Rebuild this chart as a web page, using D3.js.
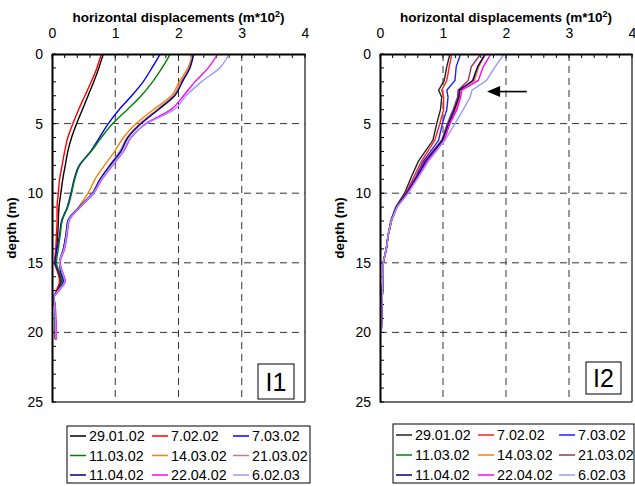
<!DOCTYPE html>
<html><head><meta charset="utf-8">
<script src="https://cdn.jsdelivr.net/npm/d3@7"></script>
<style>
body{margin:0;background:#fff;}
svg{font-family:"Liberation Sans",Arial,sans-serif;}
</style></head>
<body><svg id="c" width="635" height="486"></svg>
<script>
const seriesNames = ["29.01.02","7.02.02","7.03.02","11.03.02","14.03.02","21.03.02","11.04.02","22.04.02","6.02.03"];
const colorsI1 = ["#000000","#ff0000","#0000ff","#008000","#ff8000","#c87894","#000080","#ff00ff","#9999ff"];
const colorsI2 = ["#222222","#ff2020","#2020ff","#008000","#ff8000","#993355","#000080","#ff00ff","#9999ff"];
const xTicks = [0,1,2,3,4];
const yTicks = [0,5,10,15,20,25];

const depthI1 = [0,1,2,3,4,5,6,7,8,9,10,11,12,13,14,15,15.7,16.3,17,17.5,18,19,20,20.5];
const s1_29_01 = [0.81,0.74,0.66,0.57,0.48,0.39,0.31,0.25,0.21,0.17,0.14,0.11,0.10,0.09,0.07,0.05,0.10,0.13,0.08,0.03,0.04,0.05,0.05,0.05];
const s1_07_02 = [0.78,0.71,0.62,0.52,0.42,0.33,0.25,0.20,0.16,0.12,0.10,0.08,0.08,0.07,0.06,0.04,0.09,0.12,0.07,0.03,0.04,0.05,0.05,0.05];
const s1_07_03 = [1.71,1.58,1.44,1.26,1.06,0.89,0.75,0.61,0.43,0.35,0.30,0.24,0.15,0.12,0.08,0.05,0.11,0.15,0.09,0.02,0.04,0.05,0.06,0.06];
const s1_11_03 = [1.87,1.74,1.59,1.41,1.19,0.96,0.78,0.62,0.44,0.36,0.31,0.25,0.16,0.13,0.10,0.07,0.12,0.16,0.10,0.02,0.04,0.05,0.06,0.06];
const s1_14_03 = [2.22,2.15,2.01,1.89,1.60,1.33,1.13,0.99,0.83,0.68,0.57,0.42,0.25,0.22,0.18,0.12,0.14,0.18,0.10,0.03,0.04,0.05,0.06,0.06];
const s1_21_03 = [2.23,2.17,2.04,1.92,1.66,1.39,1.19,1.07,0.91,0.76,0.64,0.44,0.26,0.23,0.19,0.12,0.15,0.19,0.11,0.03,0.05,0.06,0.07,0.07];
const s1_11_04 = [2.24,2.18,2.06,1.94,1.68,1.41,1.20,1.09,0.92,0.76,0.64,0.43,0.25,0.22,0.18,0.12,0.14,0.18,0.10,0.03,0.04,0.05,0.06,0.06];
const s1_22_04 = [2.62,2.47,2.26,2.08,1.88,1.48,1.25,1.13,0.96,0.79,0.66,0.45,0.27,0.24,0.20,0.13,0.17,0.21,0.11,0.03,0.05,0.06,0.07,0.07];
const s1_06_02 = [2.80,2.65,2.36,2.12,1.93,1.50,1.24,1.12,0.95,0.78,0.65,0.44,0.26,0.23,0.19,0.12,0.16,0.20,0.10,0.03,0.04,0.05,0.06,0.06];

const depthI2 = [0,0.9,1.9,2.6,3.1,4,5,6.2,7.7,8.8,10,11,12,13,14,15,16,17,18,19,20];
const s2_29_01 = [1.11,1.06,1.02,0.93,0.98,0.96,0.90,0.84,0.61,0.50,0.39,0.25,0.17,0.13,0.10,0.05,0.045,0.04,0.03,0.025,0.02];
const s2_07_02 = [1.14,1.10,1.06,0.98,1.01,1.01,0.95,0.87,0.66,0.54,0.41,0.26,0.18,0.13,0.10,0.05,0.045,0.04,0.03,0.025,0.02];
const s2_07_03 = [1.28,1.21,1.19,1.06,1.08,1.06,0.99,0.93,0.69,0.57,0.42,0.26,0.18,0.13,0.10,0.05,0.045,0.04,0.03,0.025,0.02];
const s2_11_03 = [1.67,1.56,1.48,1.27,1.26,1.19,1.09,0.99,0.73,0.59,0.43,0.26,0.18,0.13,0.10,0.05,0.045,0.04,0.03,0.025,0.02];
const s2_14_03 = [1.68,1.57,1.50,1.28,1.27,1.20,1.10,1.00,0.74,0.60,0.44,0.27,0.18,0.13,0.10,0.05,0.045,0.04,0.03,0.025,0.02];
const s2_21_03 = [1.60,1.45,1.40,1.24,1.23,1.16,1.07,0.98,0.71,0.58,0.43,0.26,0.18,0.13,0.10,0.05,0.045,0.04,0.03,0.025,0.02];
const s2_11_04 = [1.67,1.55,1.47,1.26,1.25,1.18,1.09,0.99,0.73,0.59,0.43,0.26,0.18,0.13,0.10,0.05,0.045,0.04,0.03,0.025,0.02];
const s2_22_04 = [1.76,1.64,1.56,1.30,1.28,1.22,1.11,1.02,0.75,0.61,0.44,0.27,0.18,0.13,0.10,0.05,0.045,0.04,0.03,0.025,0.02];
const s2_06_02 = [1.97,1.83,1.69,1.46,1.43,1.32,1.19,1.03,0.77,0.62,0.45,0.27,0.18,0.13,0.10,0.05,0.045,0.04,0.03,0.025,0.02];

const arrowI2 = {x1:2.33, x2:1.70, d:2.7};

const I1 = [s1_29_01,s1_07_02,s1_07_03,s1_11_03,s1_14_03,s1_21_03,s1_11_04,s1_22_04,s1_06_02];
const I2 = [s2_29_01,s2_07_02,s2_07_03,s2_11_03,s2_14_03,s2_21_03,s2_11_04,s2_22_04,s2_06_02];

const svg = d3.select("#c");
const FF = "Liberation Sans, Arial, sans-serif";

function panel(cfg){
  const g = svg.append("g");
  const x = d3.scaleLinear().domain([0,4]).range([cfg.left, cfg.right]);
  const y = d3.scaleLinear().domain([0,25]).range([54, 402]);
  g.append("g").selectAll("line").data([1,2,3]).join("line")
    .attr("x1",d=>x(d)).attr("x2",d=>x(d)).attr("y1",y(0)).attr("y2",y(25))
    .attr("stroke","#333").attr("stroke-width",1).attr("stroke-dasharray","7,5");
  g.append("g").selectAll("line").data([5,10,15,20]).join("line")
    .attr("x1",x(0)).attr("x2",x(4)).attr("y1",d=>y(d)).attr("y2",d=>y(d))
    .attr("stroke","#333").attr("stroke-width",1).attr("stroke-dasharray","7,5");
  g.append("line").attr("x1",x(4)).attr("x2",x(4)).attr("y1",y(0)).attr("y2",y(25)).attr("stroke","#444").attr("stroke-width",1.5);
  g.append("line").attr("x1",x(0)).attr("x2",x(4)).attr("y1",y(25)).attr("y2",y(25)).attr("stroke","#444").attr("stroke-width",1.5);
  g.append("g").selectAll("line").data(d3.range(0,4.001,0.2)).join("line")
    .attr("x1",d=>x(d)).attr("x2",d=>x(d)).attr("y1",y(0)).attr("y2",y(0)+4)
    .attr("stroke","#000").attr("stroke-width",1);
  g.append("g").selectAll("line").data(d3.range(0,25.001,1)).join("line")
    .attr("x1",x(0)).attr("x2",x(0)+4).attr("y1",d=>y(d)).attr("y2",d=>y(d))
    .attr("stroke","#000").attr("stroke-width",1);
  const line = d3.line().x(d=>x(d[0])).y(d=>y(d[1])).curve(cfg.curve);
  cfg.data.forEach((vals,i)=>{
    const pts = vals.map((v,j)=>[v,cfg.depth[j]]);
    g.append("path").attr("d",line(pts)).attr("fill","none")
      .attr("stroke",cfg.colors[i]).attr("stroke-width",1.4);
  });
  const ax = d3.axisTop(x).tickValues(xTicks).tickFormat(d3.format("d")).tickSize(0).tickPadding(0);
  const axg = g.append("g").attr("transform",`translate(0,${y(0)})`).call(ax);
  axg.select(".domain").attr("stroke","#000").attr("stroke-width",2);
  axg.selectAll("text").attr("y",-16).attr("font-size",14).attr("font-family",FF).attr("fill","#000");
  const ay = d3.axisLeft(y).tickValues(yTicks).tickFormat(d3.format("d")).tickSize(0).tickPadding(9);
  const ayg = g.append("g").attr("transform",`translate(${x(0)},0)`).call(ay);
  ayg.select(".domain").attr("stroke","#000").attr("stroke-width",2);
  ayg.selectAll("text").attr("font-size",14).attr("font-family",FF).attr("fill","#000");
  const t = g.append("text").attr("x",(cfg.left+cfg.right)/2).attr("y",22).attr("text-anchor","middle")
    .attr("font-size",13.5).attr("font-weight","bold");
  t.append("tspan").text("horizontal displacements (m*10");
  t.append("tspan").text("2").attr("font-size",9).attr("dy",-5);
  t.append("tspan").text(")").attr("dy",5);
  g.append("text").attr("transform",`translate(${cfg.left-36},${y(12.5)}) rotate(-90)`)
    .attr("text-anchor","middle").attr("font-size",13.5).attr("font-weight","bold").text("depth (m)");
  g.append("rect").attr("x",cfg.lab[0]).attr("y",cfg.lab[1]).attr("width",cfg.lab[2]).attr("height",cfg.lab[3])
    .attr("fill","#fff").attr("stroke","#000").attr("stroke-width",1);
  g.append("text").attr("x",cfg.lab[0]+cfg.lab[2]/2).attr("y",cfg.lab[1]+cfg.lab[3]/2+9).attr("text-anchor","middle")
    .attr("font-size",25).text(cfg.name);
  const L = cfg.leg;
  g.append("rect").attr("x",L.x).attr("y",L.y).attr("width",L.w).attr("height",L.h)
    .attr("fill","#fff").attr("stroke","#000").attr("stroke-width",1);
  seriesNames.forEach((n,i)=>{
    const col = i%3, row = Math.floor(i/3);
    const lx = L.cols[col], ly = L.rows[row];
    g.append("line").attr("x1",lx).attr("x2",lx+16).attr("y1",ly).attr("y2",ly)
      .attr("stroke",cfg.colors[i]).attr("stroke-width",1.5);
    g.append("text").attr("x",lx+19).attr("y",ly+5).attr("font-size",14.3).text(n);
  });
  return {g,x,y};
}

panel({name:"I1",left:52,right:305,data:I1,depth:depthI1,colors:colorsI1,curve:d3.curveMonotoneY,
  lab:[258,364,36,35],
  leg:{x:67,y:426,w:243,h:57,cols:[70,152,233],rows:[436,455.5,475]}});
const p2 = panel({name:"I2",left:380,right:632,data:I2,depth:depthI2,colors:colorsI2,curve:d3.curveLinear,
  lab:[586,362,35,32],
  leg:{x:393,y:424,w:241,h:59,cols:[396,478,559],rows:[435,455,475]}});
const ax1 = p2.x(arrowI2.x1), ax2 = p2.x(arrowI2.x2), ay0 = p2.y(arrowI2.d);
p2.g.append("line").attr("x1",ax1).attr("x2",ax2+12).attr("y1",ay0).attr("y2",ay0).attr("stroke","#000").attr("stroke-width",1.6);
p2.g.append("path").attr("d",`M${ax2},${ay0} L${ax2+13},${ay0-5.5} L${ax2+13},${ay0+5.5} Z`).attr("fill","#000");
</script></body></html>
